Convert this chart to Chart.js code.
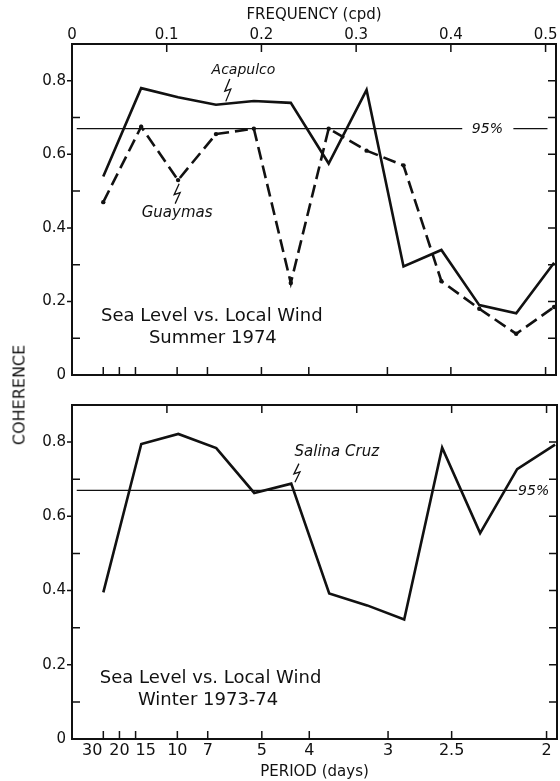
<!DOCTYPE html>
<html lang="en">
<head>
<meta charset="UTF-8">
<title>Coherence: Sea Level vs. Local Wind</title>
<script src="https://cdn.jsdelivr.net/npm/chart.js"></script>
<style>
  body { margin: 0; background: #fff; }
  #wrap { position: relative; width: 560px; height: 781px; }
  canvas { position: absolute; left: 0; }
  #summer { top: 0; }
  #winter { top: 390px; }
  .ylabel {
    position: absolute; left: 19px; top: 395px;
    transform: translate(-50%, -50%) rotate(-90deg);
    font: 16px "DejaVu Sans"; color: #111; white-space: nowrap;
  }
</style>
</head>
<body>
<div id="wrap">
  <canvas id="summer" width="560" height="390"></canvas>
  <canvas id="winter" width="560" height="391"></canvas>
  <div class="ylabel">COHERENCE</div>
</div>
<script>
// spectral estimates, frequency in cycles per day
const freq = [0.033, 0.073, 0.112, 0.152, 0.192, 0.231, 0.271, 0.311, 0.350, 0.390, 0.430, 0.469, 0.509];
const acapulco = [0.54, 0.78, 0.755, 0.735, 0.745, 0.74, 0.575, 0.775, 0.295, 0.34, 0.19, 0.168, 0.305];
const guaymas = [0.47, 0.675, 0.53, 0.655, 0.67, 0.25, 0.67, 0.61, 0.57, 0.255, 0.18, 0.112, 0.185];
const salinaCruz = [0.395, 0.795, 0.822, 0.784, 0.663, 0.688, 0.392, 0.36, 0.322, 0.785, 0.555, 0.727, 0.793];
const sig95 = 0.67;

const freqTicks = [0, 0.1, 0.2, 0.3, 0.4, 0.5];
const freqLabels = ['0', '0.1', '0.2', '0.3', '0.4', '0.5'];
const periodTicks = [0.033, 0.05, 0.067, 0.111, 0.143, 0.2, 0.25, 0.333, 0.4, 0.5];
const periodLabels = ['30', '20', '15', '10', '7', '5', '4', '3', '2.5', '2'];
const yTicks = [0, 0.2, 0.4, 0.6, 0.8];
const yLabels = ['0', '0.2', '0.4', '0.6', '0.8'];
const yMinor = [0.1, 0.3, 0.5, 0.7];

// the long-period labels are crowded, so they lean away from each other
const periodAlign = ['right', 'center', 'left', 'center', 'center', 'center', 'center', 'center', 'center', 'center'];

const INK = '#111';
Chart.defaults.font.family = '"DejaVu Sans", sans-serif';
Chart.defaults.color = INK;

const pts = (ys) => freq.map((f, i) => ({ x: f, y: ys[i] }));

// frame, inward ticks, lettering and the little zig-zag pointers
const axisDecor = {
  id: 'axisDecor',
  afterDatasetsDraw(chart, args, opts) {
    const { ctx, chartArea: a, scales: { x, y } } = chart;
    ctx.save();
    ctx.strokeStyle = INK;
    ctx.lineWidth = 2;
    ctx.strokeRect(a.left, a.top, a.right - a.left, a.bottom - a.top);

    ctx.lineWidth = 1.5;
    ctx.beginPath();
    yTicks.slice(1).forEach(v => {
      const py = y.getPixelForValue(v);
      ctx.moveTo(a.left - 5, py); ctx.lineTo(a.left + 1, py);
      ctx.moveTo(a.right, py); ctx.lineTo(a.right - 8, py);
    });
    yMinor.forEach(v => {
      const py = y.getPixelForValue(v);
      ctx.moveTo(a.left, py); ctx.lineTo(a.left + 8, py);
      ctx.moveTo(a.right, py); ctx.lineTo(a.right - 8, py);
    });
    freqTicks.slice(1).forEach(f => {
      const px = x.getPixelForValue(f);
      ctx.moveTo(px, a.top); ctx.lineTo(px, a.top + 8);
    });
    periodTicks.forEach(f => {
      const px = x.getPixelForValue(f);
      ctx.moveTo(px, a.bottom); ctx.lineTo(px, a.bottom - 8);
    });
    ctx.stroke();

    ctx.lineWidth = 1.3;
    (opts.pointers || []).forEach(p => {
      const px = x.getPixelForValue(p.x);
      const y1 = y.getPixelForValue(p.from), y2 = y.getPixelForValue(p.to);
      const mid = (y1 + y2) / 2;
      ctx.beginPath();
      ctx.moveTo(px + 2, y1);
      ctx.lineTo(px - 3, mid + 1);
      ctx.lineTo(px + 3, mid - 1);
      ctx.lineTo(px - 2, y2);
      ctx.stroke();
    });

    ctx.fillStyle = INK;
    ctx.textBaseline = 'middle';
    (opts.notes || []).forEach(n => {
      ctx.font = n.font;
      ctx.textAlign = n.align || 'center';
      ctx.fillText(n.text, x.getPixelForValue(n.x), y.getPixelForValue(n.y));
    });

    if (opts.periodLabels) {
      ctx.font = '16px "DejaVu Sans"';
      periodTicks.forEach((f, i) => {
        const px = x.getPixelForValue(f);
        const al = periodAlign[i];
        ctx.textAlign = al;
        ctx.fillText(periodLabels[i], al === 'right' ? px - 1 : px, a.bottom + 12);
      });
    }
    ctx.restore();
  }
};

const yScale = {
  min: 0, max: 0.9,
  afterBuildTicks: s => { s.ticks = yTicks.map(v => ({ value: v })); },
  afterFit: s => { s.width = 72; },
  grid: { display: false, drawTicks: false },
  border: { display: false },
  ticks: { padding: 6, font: { size: 15 }, callback: (v, i) => yLabels[i] }
};

const italic = 'italic 14px "DejaVu Sans"';
const plain = '18px "DejaVu Sans"';

new Chart(document.getElementById('summer'), {
  type: 'line',
  data: {
    datasets: [
      { label: 'Acapulco', data: pts(acapulco), borderColor: INK, borderWidth: 2.6, pointRadius: 0 },
      { label: 'Guaymas', data: pts(guaymas), borderColor: INK, borderWidth: 2.6, borderDash: [13, 6],
        pointRadius: 2.2, pointBackgroundColor: INK, pointBorderWidth: 0 },
      { label: '95%', borderColor: INK, borderWidth: 1.4, pointRadius: 0,
        data: [{ x: 0.005, y: sig95 }, { x: 0.412, y: sig95 }, { x: 0.413, y: null },
               { x: 0.466, y: sig95 }, { x: 0.502, y: sig95 }] }
    ]
  },
  options: {
    responsive: false,
    animation: false,
    devicePixelRatio: 1,
    layout: { padding: { left: 0, right: 3, top: 0, bottom: 8 } },
    plugins: {
      legend: { display: false },
      tooltip: { enabled: false },
      axisDecor: {
        pointers: [{ x: 0.1645, from: 0.805, to: 0.744 }, { x: 0.111, from: 0.52, to: 0.466 }],
        notes: [
          { text: 'Acapulco', x: 0.181, y: 0.829, font: italic },
          { text: 'Guaymas', x: 0.111, y: 0.44, font: 'italic 15px "DejaVu Sans"' },
          { text: '95%', x: 0.4386, y: 0.669, font: italic },
          { text: 'Sea Level vs. Local Wind', x: 0.1476, y: 0.16, font: plain },
          { text: 'Summer 1974', x: 0.1487, y: 0.099, font: plain }
        ]
      }
    },
    scales: {
      x: {
        type: 'linear', position: 'top', min: 0, max: 0.511,
        afterBuildTicks: s => { s.ticks = freqTicks.map(v => ({ value: v })); },
        afterFit: s => { s.height = 44; },
        grid: { display: false, drawTicks: false },
        border: { display: false },
        ticks: { padding: 0, autoSkip: false, maxRotation: 0, font: { size: 15 },
                 callback: (v, i) => freqLabels[i] },
        title: { display: true, text: 'FREQUENCY (cpd)', font: { size: 15 }, padding: { top: 6, bottom: 0 } }
      },
      y: yScale
    }
  },
  plugins: [axisDecor]
});

new Chart(document.getElementById('winter'), {
  type: 'line',
  data: {
    datasets: [
      { label: 'Salina Cruz', data: pts(salinaCruz), borderColor: INK, borderWidth: 2.6, pointRadius: 0 },
      { label: '95%', borderColor: INK, borderWidth: 1.4, pointRadius: 0,
        data: [{ x: 0.005, y: sig95 }, { x: 0.469, y: sig95 }] }
    ]
  },
  options: {
    responsive: false,
    animation: false,
    devicePixelRatio: 1,
    layout: { padding: { left: 0, right: 3, top: 8, bottom: 0 } },
    plugins: {
      legend: { display: false },
      tooltip: { enabled: false },
      axisDecor: {
        periodLabels: true,
        pointers: [{ x: 0.237, from: 0.742, to: 0.692 }],
        notes: [
          { text: 'Salina Cruz', x: 0.279, y: 0.773, font: 'italic 15px "DejaVu Sans"' },
          { text: '95%', x: 0.470, y: 0.668, font: italic, align: 'left' },
          { text: 'Sea Level vs. Local Wind', x: 0.146, y: 0.164, font: plain },
          { text: 'Winter 1973-74', x: 0.1434, y: 0.104, font: plain }
        ]
      }
    },
    scales: {
      x: {
        type: 'linear', position: 'bottom', min: 0, max: 0.511,
        afterFit: s => { s.height = 42; },
        grid: { display: false, drawTicks: false },
        border: { display: false },
        ticks: { display: false },
        title: { display: true, text: 'PERIOD (days)', font: { size: 15 }, padding: { top: 0, bottom: 0 } }
      },
      y: yScale
    }
  },
  plugins: [axisDecor]
});
</script>
</body>
</html>
